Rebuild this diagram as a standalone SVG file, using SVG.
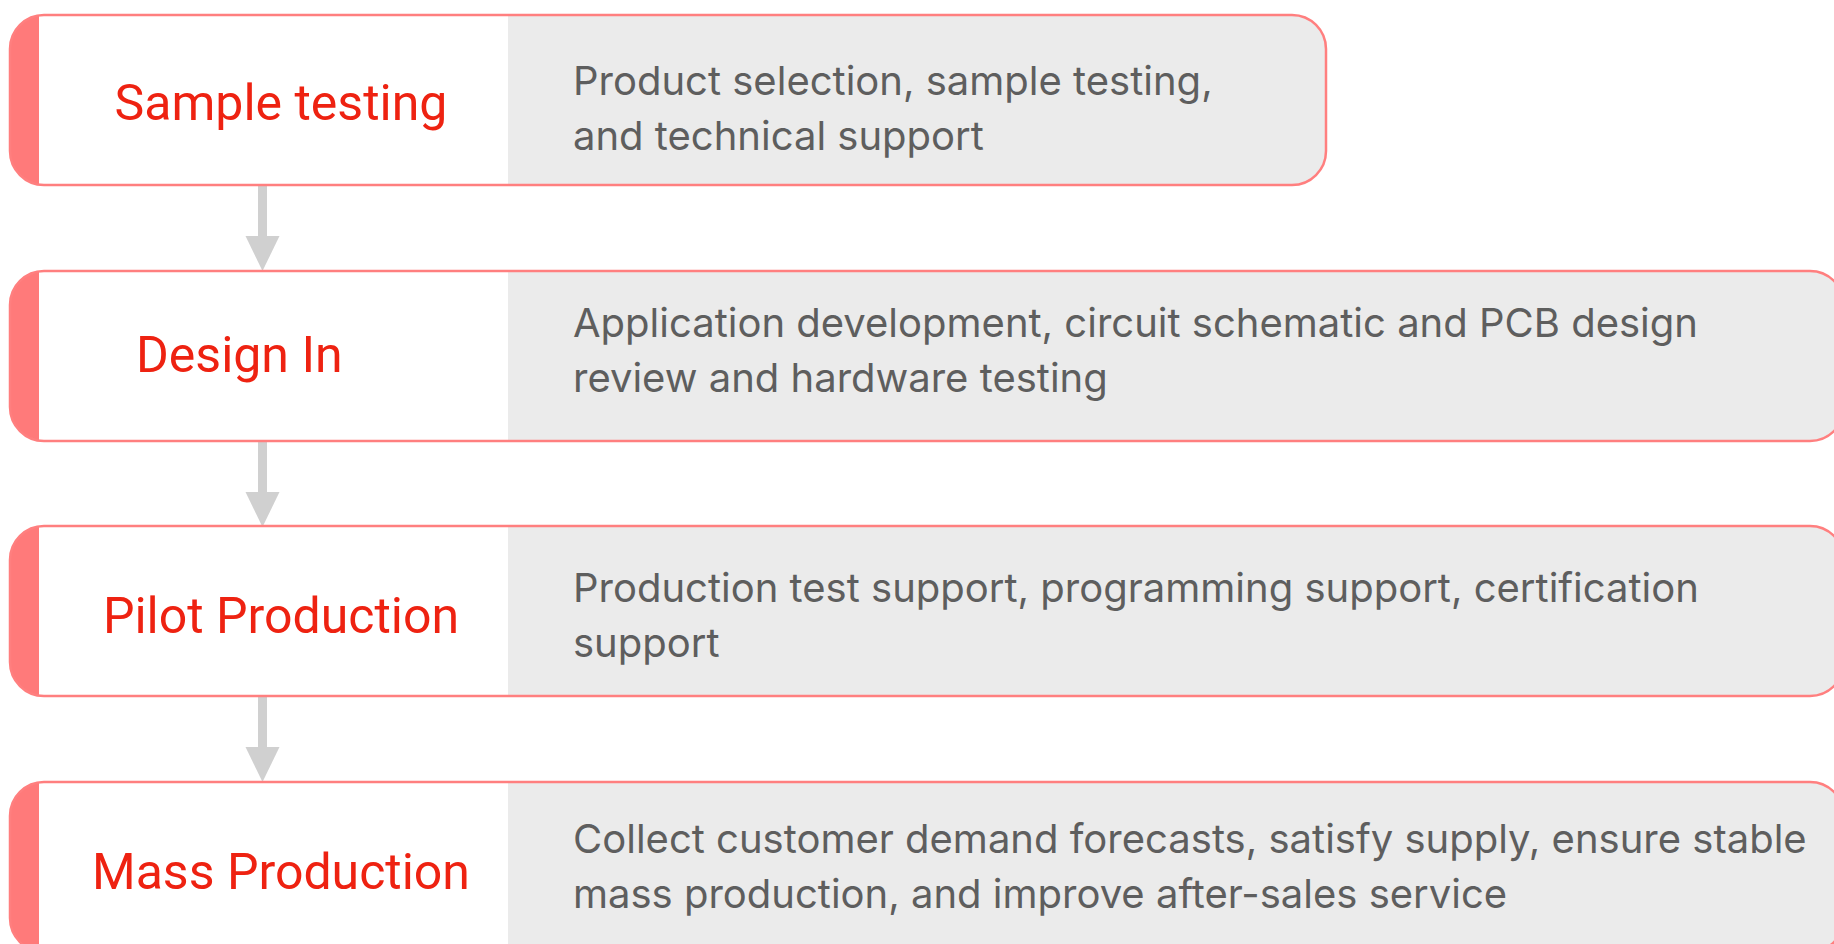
<svg xmlns="http://www.w3.org/2000/svg" width="1834" height="944" viewBox="0 0 1834 944">
<style>
.bg{fill:#EBEBEB;stroke:none}
.stripe{fill:#FF7A7A}
.white{fill:#FFFFFF}
.outline{fill:none;stroke:#FF7F7F;stroke-width:2.5}
.title{font-family:Roboto,"Liberation Sans",sans-serif;font-size:50px;fill:#EE2211}
.desc{font-family:Inter,Roboto,"Liberation Sans",sans-serif;font-size:40px;fill:#5E5E5E}
.shaft{stroke:#D0D0D0;stroke-width:9;fill:none}
.head{fill:#D0D0D0}
</style>
<g id="connectors">
<line class="shaft" x1="262.5" y1="185" x2="262.5" y2="238"/>
<polygon class="head" points="245.5,236 279.5,236 262.5,271"/>
<line class="shaft" x1="262.5" y1="441" x2="262.5" y2="494"/>
<polygon class="head" points="245.5,492 279.5,492 262.5,527"/>
<line class="shaft" x1="262.5" y1="695" x2="262.5" y2="749"/>
<polygon class="head" points="245.5,747 279.5,747 262.5,782"/>
</g>
<g id="node-sample-testing">
<rect class="bg" x="10" y="15" width="1316" height="170" rx="34"/>
<path class="stripe" d="M44 15 A34 34 0 0 0 10 49 V151 A34 34 0 0 0 44 185 Z"/>
<rect class="white" x="39" y="16" width="469" height="168"/>
<rect class="outline" x="10" y="15" width="1316" height="170" rx="34"/>
<text class="title" x="281" y="120" text-anchor="middle">Sample testing</text>
<text class="desc" x="573" y="95">Product selection, sample testing,</text>
<text class="desc" x="573" y="150">and technical support</text>
</g>
<g id="node-design-in">
<rect class="bg" x="10" y="271" width="1834" height="170" rx="34"/>
<path class="stripe" d="M44 271 A34 34 0 0 0 10 305 V407 A34 34 0 0 0 44 441 Z"/>
<rect class="white" x="39" y="272" width="469" height="168"/>
<rect class="outline" x="10" y="271" width="1834" height="170" rx="34"/>
<text class="title" x="136" y="372">Design In</text>
<text class="desc" x="573" y="337">Application development, circuit schematic and PCB design</text>
<text class="desc" x="573" y="392">review and hardware testing</text>
</g>
<g id="node-pilot-production">
<rect class="bg" x="10" y="526" width="1834" height="170" rx="34"/>
<path class="stripe" d="M44 526 A34 34 0 0 0 10 560 V662 A34 34 0 0 0 44 696 Z"/>
<rect class="white" x="39" y="527" width="469" height="168"/>
<rect class="outline" x="10" y="526" width="1834" height="170" rx="34"/>
<text class="title" x="281" y="633" text-anchor="middle">Pilot Production</text>
<text class="desc" x="573" y="602">Production test support, programming support, certification</text>
<text class="desc" x="573" y="657">support</text>
</g>
<g id="node-mass-production">
<rect class="bg" x="10" y="782" width="1834" height="170" rx="34"/>
<path class="stripe" d="M44 782 A34 34 0 0 0 10 816 V918 A34 34 0 0 0 44 952 Z"/>
<rect class="white" x="39" y="783" width="469" height="168"/>
<rect class="outline" x="10" y="782" width="1834" height="170" rx="34"/>
<text class="title" x="281" y="889" text-anchor="middle">Mass Production</text>
<text class="desc" x="573" y="853">Collect customer demand forecasts, satisfy supply, ensure stable</text>
<text class="desc" x="573" y="908">mass production, and improve after-sales service</text>
</g>
</svg>
